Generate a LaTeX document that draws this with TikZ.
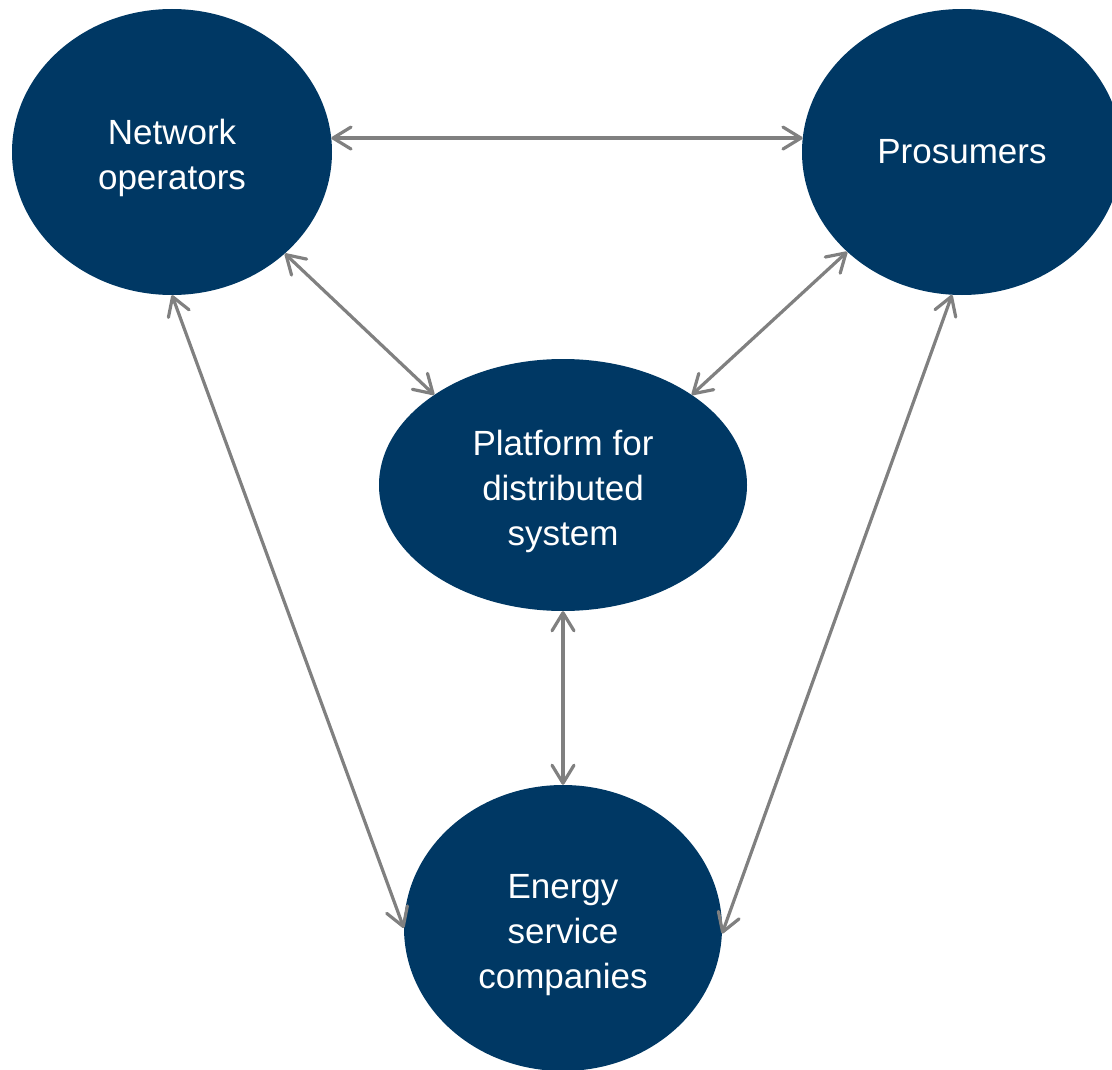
\documentclass[tikz,border=0pt]{standalone}
\usepackage{fontspec}
\setmainfont{Liberation Sans}
\usepackage{xcolor}
\usepackage{tikz}
\usetikzlibrary{arrows.meta}
\usetikzlibrary{shapes.geometric}
\definecolor{navyblue}{RGB}{0,56,100}
\definecolor{linkgray}{RGB}{128,128,128}

\begin{document}
\begin{tikzpicture}[x=1pt, y=-1pt,
	actor/.style={ellipse, fill=navyblue, text=white, align=center, inner sep=0pt,
		font=\fontsize{35}{45}\selectfont},
	link/.style={draw=linkgray, line width=3.2pt, line cap=round,
		{Straight Barb[length=18pt,width=22pt,line cap=round,line join=round]}-{Straight Barb[length=18pt,width=22pt,line cap=round,line join=round]}}]
	\clip (0,0) rectangle (1112,1070);
	\node[actor, minimum width=320pt, minimum height=286pt] (net) at (172,152) {\rule{0pt}{38pt}Network\\operators};
	\node[actor, minimum width=320pt, minimum height=286pt] (pros) at (962,152) {Prosumers};
	\node[actor, minimum width=368pt, minimum height=252pt] (plat) at (563,485) {\rule{0pt}{38pt}Platform for\\distributed\\system};
	\node[actor, minimum width=318pt, minimum height=286pt] (esco) at (563,928) {\rule{0pt}{38pt}Energy\\service\\companies};
	\draw[link] (net.5) -- (pros.175);
	\draw[link] (net.-42) -- (plat.145);
	\draw[link] (pros.221) -- (plat.35);
	\draw[link] (net.south) -- (esco.west);
	\draw[link] (pros.266) -- (esco.-2);
	\draw[link] (plat.south) -- (esco.north);
\end{tikzpicture}
\end{document}
